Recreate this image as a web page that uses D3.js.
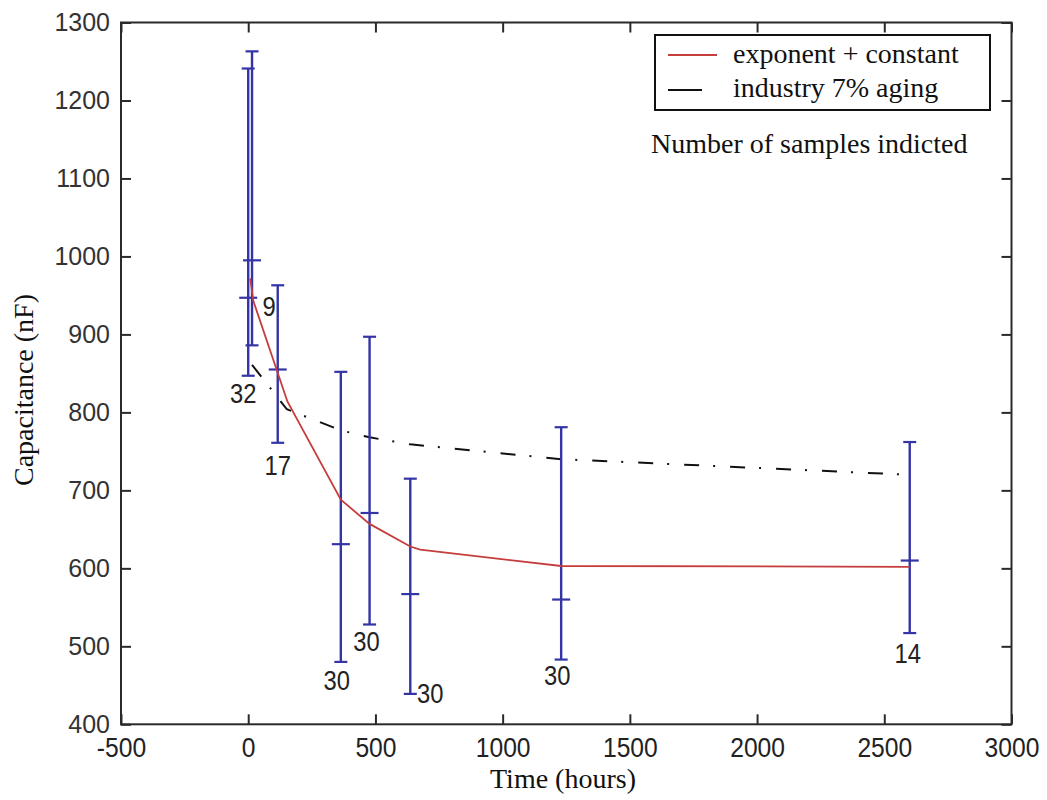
<!DOCTYPE html>
<html>
<head>
<meta charset="utf-8">
<script src="https://cdn.jsdelivr.net/npm/d3@7"></script>
<style>
  html, body { margin: 0; padding: 0; background: #ffffff; }
  svg { display: block; }
</style>
</head>
<body>
<svg id="chart" width="1047" height="800"></svg>
<script>
// ---- data ----
const timeHours    = [0, 15, 116, 364, 477, 637, 1230, 2600];
const capMean      = [947, 995, 855, 631, 671, 567, 560, 610];
const capHigh      = [1241, 1263, 963, 852, 897, 715, 781, 762];
const capLow       = [847, 886, 761, 480, 528, 439, 483, 517];
const sampleCounts = [32, 9, 17, 30, 30, 30, 30, 14];

const fitTime   = [8, 20, 154, 364, 477, 637, 676, 1230, 2600];
const fitCap    = [972, 943, 814, 688, 657, 628, 624, 603, 602];

const agingTime = [15, 152, 364, 477, 637, 1230, 2600];
const agingCap  = [861, 804, 777, 768, 759, 740, 720];

const xTicks = [-500, 0, 500, 1000, 1500, 2000, 2500, 3000];
const yTicks = [400, 500, 600, 700, 800, 900, 1000, 1100, 1200, 1300];

const legendLabels = ["exponent + constant", "industry 7% aging"];
const noteText = "Number of samples indicted";
const xTitle = "Time (hours)";
const yTitle = "Capacitance (nF)";

// ---- layout ----
const L = 121, R = 1011.5, T = 22.5, B = 724.3;
const svg = d3.select("#chart");
const x = d3.scaleLinear().domain([-500, 3000]).range([L, R]);
const y = d3.scaleLinear().domain([400, 1300]).range([B, T]);

const axisColor = "#2a2a2a";
const blue = "#3434a6";
const red = "#c63d3d";

// axes
const gx = svg.append("g").attr("transform", `translate(0,${B})`)
  .call(d3.axisBottom(x).tickValues(xTicks).tickSize(-10).tickSizeOuter(0).tickPadding(13)
        .tickFormat(d => String(d)));
gx.selectAll("text").attr("font-family", "Liberation Sans, Arial, sans-serif")
  .attr("font-size", 28).attr("fill", "#222").attr("transform", "scale(0.88,1)");

const gy = svg.append("g").attr("transform", `translate(${L},0)`)
  .call(d3.axisLeft(y).tickValues(yTicks).tickSize(-10).tickSizeOuter(0).tickPadding(11)
        .tickFormat(d => String(d)));
gy.selectAll("text").attr("font-family", "Liberation Sans, Arial, sans-serif")
  .attr("font-size", 25).attr("fill", "#333");

const gt = svg.append("g").attr("transform", `translate(0,${T})`)
  .call(d3.axisTop(x).tickValues(xTicks).tickSize(-10).tickSizeOuter(0).tickFormat(""));
const gr = svg.append("g").attr("transform", `translate(${R},0)`)
  .call(d3.axisRight(y).tickValues(yTicks).tickSize(-10).tickSizeOuter(0).tickFormat(""));

[gx, gy, gt, gr].forEach(g => {
  g.select(".domain").remove();
  g.selectAll(".tick line").attr("stroke", axisColor).attr("stroke-width", 2);
});

svg.append("rect").attr("x", L).attr("y", T).attr("width", R - L).attr("height", B - T)
  .attr("fill", "none").attr("stroke", axisColor).attr("stroke-width", 2);

// curves
const line = d3.line().x(d => x(d[0])).y(d => y(d[1]));
svg.append("path").datum(agingTime.map((t, i) => [t, agingCap[i]]))
  .attr("d", line).attr("fill", "none").attr("stroke", "#111")
  .attr("stroke-width", 2).attr("stroke-dasharray", "15,14,2,15");

// error bars
const bars = svg.append("g");
timeHours.forEach((t, i) => {
  const cx = x(t);
  bars.append("line").attr("x1", cx).attr("x2", cx).attr("y1", y(capHigh[i])).attr("y2", y(capLow[i]))
    .attr("stroke", blue).attr("stroke-width", 2.4);
  [capHigh[i], capLow[i]].forEach(v => {
    bars.append("line").attr("x1", cx - 6.5).attr("x2", cx + 6.5).attr("y1", y(v)).attr("y2", y(v))
      .attr("stroke", blue).attr("stroke-width", 2.2);
  });
  bars.append("line").attr("x1", cx - 9).attr("x2", cx + 9).attr("y1", y(capMean[i])).attr("y2", y(capMean[i]))
    .attr("stroke", blue).attr("stroke-width", 2.2);
});

svg.append("path").datum(fitTime.map((t, i) => [t, fitCap[i]]))
  .attr("d", line).attr("fill", "none").attr("stroke", red).attr("stroke-width", 1.8);

// sample-count labels (nudges relative to the bottom of each bar)
const nudge = [[-5, 18], [17, -39], [0, 22], [-4, 18], [-3, 17], [20, -1], [-4, 16], [-2, 20]];
timeHours.forEach((t, i) => {
  const [dx, dy] = nudge[i];
  svg.append("text")
    .attr("transform", `translate(${x(t) + dx},${y(capLow[i]) + dy}) scale(0.88,1)`)
    .attr("text-anchor", "middle").attr("dy", "0.36em")
    .attr("font-family", "Liberation Sans, Arial, sans-serif").attr("font-size", 27)
    .attr("fill", "#222").text(sampleCounts[i]);
});

// legend
const lg = svg.append("g");
lg.append("rect").attr("x", 655).attr("y", 35).attr("width", 335).attr("height", 75)
  .attr("fill", "#fff").attr("stroke", "#111").attr("stroke-width", 2);
lg.append("line").attr("x1", 668).attr("x2", 717).attr("y1", 55).attr("y2", 55)
  .attr("stroke", red).attr("stroke-width", 1.8);
lg.append("line").attr("x1", 668).attr("x2", 702).attr("y1", 90).attr("y2", 90)
  .attr("stroke", "#111").attr("stroke-width", 2);
legendLabels.forEach((s, i) => {
  lg.append("text").attr("x", 733).attr("y", 63 + i * 34)
    .attr("font-family", "Liberation Serif, Times New Roman, serif").attr("font-size", 28)
    .attr("fill", "#111").text(s);
});
svg.append("text").attr("x", 651).attr("y", 153)
  .attr("font-family", "Liberation Serif, Times New Roman, serif").attr("font-size", 28)
  .attr("fill", "#111").text(noteText);

// axis titles
svg.append("text").attr("x", 563).attr("y", 788).attr("text-anchor", "middle")
  .attr("font-family", "Liberation Serif, Times New Roman, serif").attr("font-size", 28)
  .attr("fill", "#111").text(xTitle);
svg.append("text").attr("transform", "translate(33,390) rotate(-90)").attr("text-anchor", "middle")
  .attr("font-family", "Liberation Serif, Times New Roman, serif").attr("font-size", 28)
  .attr("fill", "#111").text(yTitle);
</script>
</body>
</html>
